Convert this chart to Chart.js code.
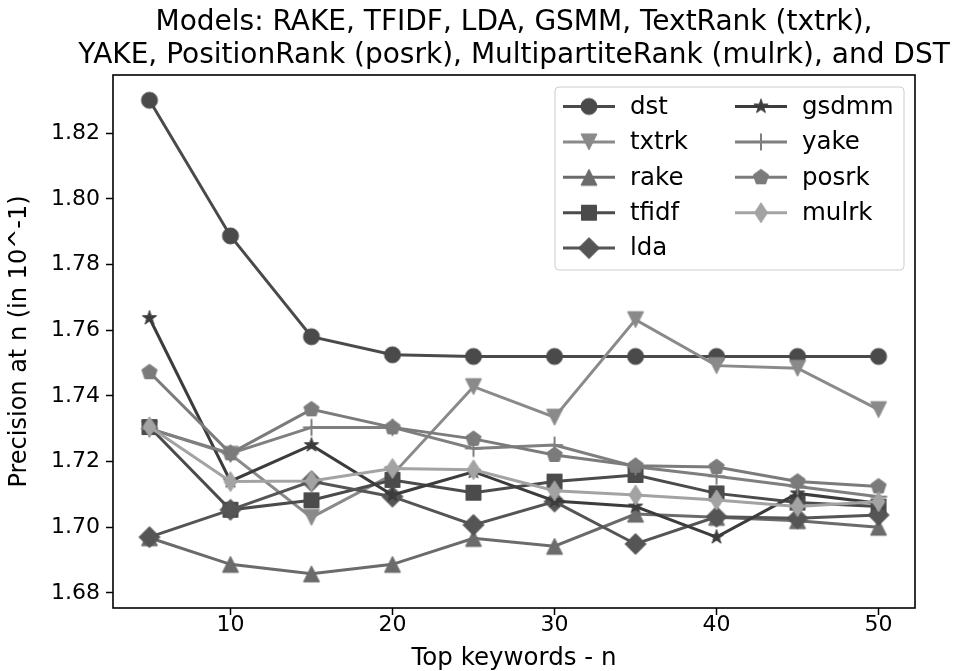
<!DOCTYPE html>
<html>
<head>
<meta charset="utf-8">
<script src="https://cdn.jsdelivr.net/npm/chart.js@4.4.0/dist/chart.umd.min.js"></script>
<style>
	html, body { margin: 0; padding: 0; background: #fff; }
</style>
</head>
<body>
<canvas id="mycanvas" width="973" height="671"></canvas>
<script>
// data
var topN = [5, 10, 15, 20, 25, 30, 35, 40, 45, 50];
var dst   = [1.8300, 1.7887, 1.7580, 1.7525, 1.7520, 1.7520, 1.7520, 1.7520, 1.7520, 1.7520];
var txtrk = [1.7300, 1.7222, 1.7030, 1.7160, 1.7428, 1.7335, 1.7632, 1.7492, 1.7484, 1.7358];
var rake  = [1.6968, 1.6887, 1.6858, 1.6887, 1.6966, 1.6942, 1.7040, 1.7030, 1.7020, 1.7000];
var tfidf = [1.7305, 1.7053, 1.7082, 1.7144, 1.7105, 1.7139, 1.7159, 1.7103, 1.7075, 1.7063];
var lda   = [1.6970, 1.7053, 1.7140, 1.7093, 1.7007, 1.7078, 1.6949, 1.7032, 1.7027, 1.7037];
var gsdmm = [1.7637, 1.7140, 1.7250, 1.7098, 1.7169, 1.7080, 1.7063, 1.6970, 1.7103, 1.7073];
var yake  = [1.7300, 1.7225, 1.7304, 1.7304, 1.7240, 1.7250, 1.7184, 1.7155, 1.7124, 1.7093];
var posrk = [1.7472, 1.7225, 1.7359, 1.7304, 1.7269, 1.7220, 1.7187, 1.7183, 1.7139, 1.7124];
var mulrk = [1.7306, 1.7139, 1.7141, 1.7179, 1.7175, 1.7111, 1.7098, 1.7083, 1.7063, 1.7078];

var seriesNames = ['dst', 'txtrk', 'rake', 'tfidf', 'lda', 'gsdmm', 'yake', 'posrk', 'mulrk'];
var seriesData = [dst, txtrk, rake, tfidf, lda, gsdmm, yake, posrk, mulrk];
var xTicks = [10, 20, 30, 40, 50];
var yTicks = [1.68, 1.70, 1.72, 1.74, 1.76, 1.78, 1.80, 1.82];

var titleLines = ['Models: RAKE, TFIDF, LDA, GSMM, TextRank (txtrk),',
	'YAKE, PositionRank (posrk), MultipartiteRank (mulrk), and DST'];

// styles
var colors = ['#4a4a4a', '#8a8a8a', '#6b6b6b', '#4b4b4b', '#555555', '#3c3c3c', '#7f7f7f', '#7b7b7b', '#a3a3a3'];
var shapes = ['circle', 'triDown', 'triUp', 'square', 'diamond', 'star', 'plus', 'pentagon', 'thinDiamond'];
var FONT = '"DejaVu Sans", sans-serif';

function makeMarker(shape, color){
	var c = document.createElement('canvas');
	c.width = 26; c.height = 26;
	var g = c.getContext('2d');
	g.translate(13, 13);
	g.fillStyle = color;
	g.strokeStyle = color;
	g.lineWidth = 1;
	g.beginPath();
	var i, a, r;
	if(shape === 'circle'){
		g.arc(0, 0, 8, 0, Math.PI * 2);
	} else if(shape === 'triDown'){
		g.moveTo(0, 8); g.lineTo(-8, -8); g.lineTo(8, -8); g.closePath();
	} else if(shape === 'triUp'){
		g.moveTo(0, -8); g.lineTo(-8, 8); g.lineTo(8, 8); g.closePath();
	} else if(shape === 'square'){
		g.rect(-7.5, -7.5, 15, 15);
	} else if(shape === 'diamond'){
		g.moveTo(0, -10.5); g.lineTo(10.5, 0); g.lineTo(0, 10.5); g.lineTo(-10.5, 0); g.closePath();
	} else if(shape === 'thinDiamond'){
		g.moveTo(0, -10); g.lineTo(6.5, 0); g.lineTo(0, 10); g.lineTo(-6.5, 0); g.closePath();
	} else if(shape === 'star'){
		for(i = 0; i < 10; i++){
			a = -Math.PI / 2 + i * Math.PI / 5;
			r = (i % 2 === 0) ? 7.5 : 2.9;
			if(i === 0) g.moveTo(r * Math.cos(a), r * Math.sin(a));
			else g.lineTo(r * Math.cos(a), r * Math.sin(a));
		}
		g.closePath();
	} else if(shape === 'pentagon'){
		for(i = 0; i < 5; i++){
			a = -Math.PI / 2 + i * 2 * Math.PI / 5;
			if(i === 0) g.moveTo(8 * Math.cos(a), 8 * Math.sin(a));
			else g.lineTo(8 * Math.cos(a), 8 * Math.sin(a));
		}
		g.closePath();
	} else if(shape === 'plus'){
		g.lineWidth = 2;
		g.moveTo(0, -8.5); g.lineTo(0, 8.5);
		g.moveTo(-8.5, 0); g.lineTo(8.5, 0);
		g.stroke();
		return c;
	}
	g.fill();
	g.stroke();
	return c;
}

var markers = shapes.map(function(s, i){ return makeMarker(s, colors[i]); });

var datasets = [];
for(var i in seriesNames){
	datasets.push({
		label: seriesNames[i],
		data: topN.map(function(n, k){ return {x: n, y: seriesData[i][k]}; }),
		borderColor: colors[i],
		backgroundColor: colors[i],
		borderWidth: 3,
		pointStyle: markers[i],
		pointRadius: 8,
		pointHoverRadius: 8,
		tension: 0,
		order: seriesNames.length - i
	});
}

var framePlugin = {
	id: 'frame',
	afterDatasetsDraw: function(chart){
		var a = chart.chartArea, ctx = chart.ctx;
		ctx.save();
		ctx.strokeStyle = '#000';
		ctx.lineWidth = 1.6;
		ctx.strokeRect(a.left, a.top, a.right - a.left, a.bottom - a.top);
		ctx.restore();
	},
	afterDraw: function(chart){
		var ctx = chart.ctx;
		var a = chart.chartArea;
		ctx.save();
		// title, centred over the axes
		ctx.fillStyle = '#000';
		ctx.font = '28px ' + FONT;
		ctx.textAlign = 'center';
		ctx.textBaseline = 'alphabetic';
		var cx = (a.left + a.right) / 2;
		ctx.fillText(titleLines[0], cx, 29.5);
		ctx.fillText(titleLines[1], cx, 63);

		// legend box
		var bx = 555, by = 87, bw = 349, bh = 183, br = 4;
		ctx.beginPath();
		ctx.moveTo(bx + br, by);
		ctx.arcTo(bx + bw, by, bx + bw, by + bh, br);
		ctx.arcTo(bx + bw, by + bh, bx, by + bh, br);
		ctx.arcTo(bx, by + bh, bx, by, br);
		ctx.arcTo(bx, by, bx + bw, by, br);
		ctx.closePath();
		ctx.fillStyle = 'rgba(255,255,255,0.8)';
		ctx.fill();
		ctx.strokeStyle = '#cccccc';
		ctx.lineWidth = 1;
		ctx.stroke();

		ctx.font = '24.5px ' + FONT;
		ctx.textAlign = 'left';
		ctx.textBaseline = 'middle';
		chart.data.datasets.forEach(function(ds, k){
			var col = k < 5 ? 0 : 1;
			var row = k < 5 ? k : k - 5;
			var lx = col ? 735 : 563;
			var ly = 106.5 + row * 35.4;
			ctx.strokeStyle = ds.borderColor;
			ctx.lineWidth = 3;
			ctx.beginPath();
			ctx.moveTo(lx, ly);
			ctx.lineTo(lx + 52, ly);
			ctx.stroke();
			var m = ds.pointStyle;
			ctx.drawImage(m, lx + 26 - m.width / 2, ly - m.height / 2);
			ctx.fillStyle = '#000';
			ctx.fillText(ds.label, lx + 67, ly + 1);
		});
		ctx.restore();
	}
};

var ctx = document.getElementById('mycanvas');

var lineGraph = new Chart(ctx, {
	type: 'line',
	data: { datasets: datasets },
	plugins: [framePlugin],
	options: {
		responsive: false,
		animation: false,
		devicePixelRatio: 1,
		layout: { padding: { top: 75, right: 58, left: 0, bottom: 0 } },
		plugins: {
			legend: { display: false },
			title: { display: false },
			tooltip: { enabled: false }
		},
		scales: {
			x: {
				type: 'linear',
				min: 2.75,
				max: 52.25,
				afterBuildTicks: function(scale){
					scale.ticks = xTicks.map(function(v){ return {value: v}; });
				},
				afterFit: function(scale){ scale.height = 63; },
				ticks: {
					color: '#000',
					font: { family: FONT, size: 22 },
					padding: -3,
					maxRotation: 0,
					autoSkip: false
				},
				grid: { drawOnChartArea: false, drawTicks: true, tickLength: 7, tickWidth: 1.5, tickColor: '#000' },
				border: { display: false },
				title: {
					display: true,
					text: 'Top keywords - n',
					color: '#000',
					font: { family: FONT, size: 24.5, lineHeight: 1 },
					padding: { top: 0, bottom: 0.5 }
				}
			},
			y: {
				type: 'linear',
				min: 1.6754,
				max: 1.8377,
				afterBuildTicks: function(scale){
					scale.ticks = yTicks.map(function(v){ return {value: v}; });
				},
				afterFit: function(scale){ scale.width = 113; },
				ticks: {
					color: '#000',
					font: { family: FONT, size: 22 },
					padding: 6,
					autoSkip: false,
					callback: function(v){ return v.toFixed(2); }
				},
				grid: { drawOnChartArea: false, drawTicks: true, tickLength: 7, tickWidth: 1.5, tickColor: '#000' },
				border: { display: false },
				title: {
					display: true,
					text: 'Precision at n (in 10^-1)',
					color: '#000',
					font: { family: FONT, size: 24 },
					padding: { top: 5, bottom: 0 }
				}
			}
		}
	}
});
</script>
</body>
</html>
